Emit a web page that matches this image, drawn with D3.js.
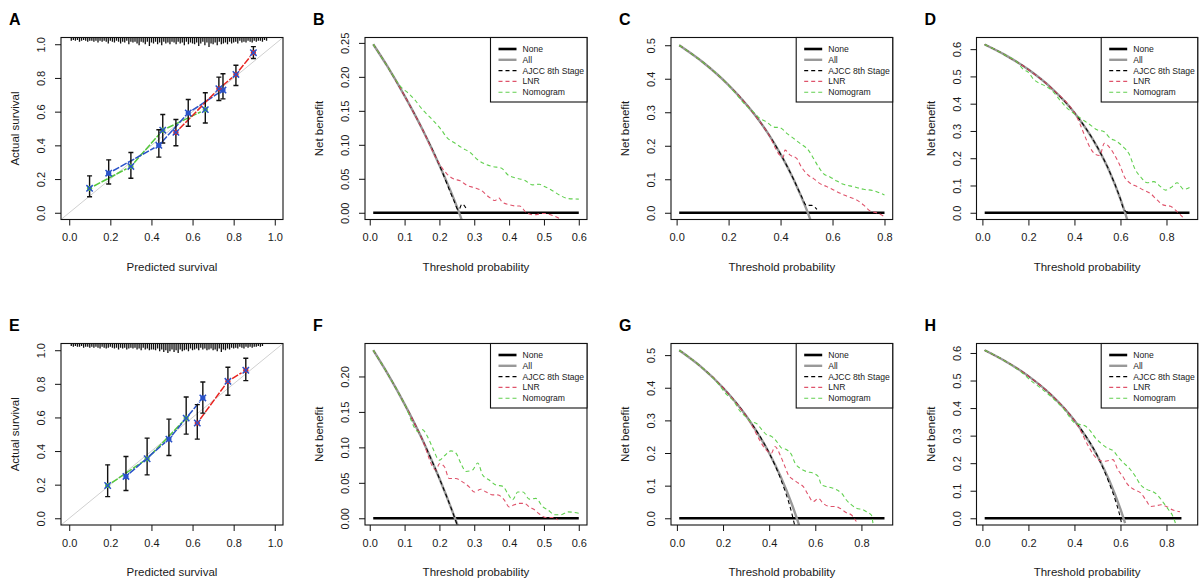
<!DOCTYPE html>
<html>
<head>
<meta charset="utf-8">
<script src="https://cdn.jsdelivr.net/npm/d3@7"></script>
<style>
  body { margin: 0; background: #fff; }
  svg { display: block; font-family: 'Liberation Sans', Arial, sans-serif; }
</style>
</head>
<body>
<script>
// ---------- data ----------
var calTicks = [0, 0.2, 0.4, 0.6, 0.8, 1.0];

// calibration groups: [predicted, observed, lower, upper]
var calA_green = [[0.099, 0.145, 0.095, 0.219], [0.300, 0.275, 0.205, 0.358], [0.455, 0.490, 0.414, 0.583], [0.662, 0.612, 0.533, 0.712]];
var calA_blue = [[0.192, 0.235, 0.171, 0.314], [0.436, 0.400, 0.330, 0.493], [0.579, 0.592, 0.513, 0.672], [0.748, 0.728, 0.676, 0.825]];
var calA_red = [[0.519, 0.477, 0.398, 0.553], [0.728, 0.736, 0.666, 0.805], [0.811, 0.821, 0.755, 0.875], [0.896, 0.950, 0.915, 0.986]];

var calE_green = [[0.187, 0.195, 0.129, 0.318], [0.379, 0.354, 0.258, 0.477], [0.569, 0.596, 0.501, 0.722]];
var calE_blue = [[0.276, 0.249, 0.165, 0.368], [0.485, 0.471, 0.374, 0.590], [0.650, 0.716, 0.626, 0.811]];
var calE_red = [[0.623, 0.567, 0.471, 0.676], [0.772, 0.815, 0.732, 0.899], [0.859, 0.881, 0.819, 0.952]];

// spike histogram of predicted survival, bins of 0.01 starting at 0.01
var rugStep = 0.01;
var rugA = [2, 1, 2, 1, 3, 2, 1, 2, 3, 2, 2, 3, 2, 4, 2, 3, 2, 3, 5, 2, 3, 4, 2, 3, 5, 3, 4, 2, 6, 3,
  4, 3, 5, 7, 3, 4, 6, 3, 8, 4, 5, 3, 6, 4, 7, 3, 5, 4, 6, 3, 4, 6, 3, 5, 4, 7, 3, 6, 4, 5,
  6, 4, 8, 5, 3, 7, 4, 9, 5, 6, 4, 7, 3, 6, 5, 4, 6, 3, 5, 4, 3, 5, 2, 4, 3, 4, 2, 3, 4, 2,
  3, 2, 2, 3, 1, 2];
var rugE = [1, 2, 1, 2, 2, 1, 3, 2, 2, 3, 2, 3, 2, 3, 4, 2, 3, 4, 3, 2, 3, 4, 3, 5, 3, 4, 3, 5, 4, 3,
  4, 3, 5, 4, 6, 3, 5, 4, 6, 5, 5, 6, 4, 7, 5, 8, 6, 9, 7, 5, 8, 6, 9, 5, 7, 6, 5, 7, 4, 6,
  5, 4, 6, 3, 5, 4, 6, 5, 4, 6, 5, 7, 4, 8, 5, 6, 4, 5, 3, 4, 3, 4, 2, 3, 4, 2, 3, 2, 3, 2,
  2, 1, 2, 1];

var dcaNames = ['None', 'All', 'AJCC 8th Stage', 'LNR', 'Nomogram'];

// decision curves: [threshold, net benefit]
var dcaB_none = [[0.01, 0], [0.6, 0]];
var dcaB_all = [[0.01, 0.248], [0.05, 0.216], [0.10, 0.172], [0.15, 0.124], [0.20, 0.070], [0.25, 0.009], [0.27, -0.019]];
var dcaB_ajcc = [[0.01, 0.248], [0.05, 0.216], [0.10, 0.172], [0.15, 0.124], [0.20, 0.070], [0.24, 0.02], [0.255, 0.004], [0.265, 0.013], [0.28, 0.003]];
var dcaB_lnr = [[0.01, 0.248], [0.05, 0.216], [0.10, 0.172], [0.15, 0.124], [0.20, 0.072], [0.22, 0.058], [0.24, 0.05], [0.26, 0.047], [0.28, 0.04], [0.30, 0.037], [0.32, 0.033], [0.34, 0.024], [0.36, 0.018], [0.37, 0.022], [0.38, 0.016], [0.40, 0.012], [0.42, 0.01], [0.43, 0.01], [0.45, 0.0], [0.47, -0.003], [0.50, -0.001], [0.53, -0.005], [0.55, -0.01]];
var dcaB_nomo = [[0.01, 0.248], [0.05, 0.216], [0.09, 0.185], [0.113, 0.175], [0.128, 0.167], [0.151, 0.152], [0.18, 0.137], [0.204, 0.123], [0.223, 0.11], [0.243, 0.103], [0.267, 0.095], [0.29, 0.088], [0.31, 0.078], [0.334, 0.071], [0.353, 0.068], [0.377, 0.066], [0.396, 0.056], [0.42, 0.051], [0.444, 0.048], [0.468, 0.041], [0.487, 0.042], [0.5, 0.039], [0.52, 0.034], [0.545, 0.026], [0.568, 0.021], [0.6, 0.02]];

var dcaC_none = [[0.01, 0], [0.8, 0]];
var dcaC_all = [[0.01, 0.50], [0.1, 0.45], [0.2, 0.381], [0.3, 0.293], [0.35, 0.239], [0.4, 0.175], [0.45, 0.10], [0.5, 0.01], [0.53, -0.053]];
var dcaC_ajcc = [[0.01, 0.50], [0.1, 0.45], [0.2, 0.381], [0.3, 0.293], [0.35, 0.239], [0.4, 0.175], [0.45, 0.10], [0.48, 0.05], [0.5, 0.022], [0.52, 0.022], [0.54, 0.01]];
var dcaC_lnr = [[0.01, 0.50], [0.1, 0.45], [0.2, 0.381], [0.3, 0.293], [0.35, 0.239], [0.41, 0.165], [0.417, 0.187], [0.437, 0.172], [0.462, 0.162], [0.48, 0.137], [0.507, 0.112], [0.527, 0.102], [0.552, 0.087], [0.578, 0.078], [0.604, 0.068], [0.63, 0.058], [0.661, 0.048], [0.693, 0.038], [0.72, 0.023], [0.745, 0.005], [0.77, 0.0], [0.8, -0.012]];
var dcaC_nomo = [[0.01, 0.50], [0.1, 0.45], [0.2, 0.381], [0.27, 0.318], [0.295, 0.301], [0.321, 0.281], [0.347, 0.271], [0.372, 0.256], [0.398, 0.254], [0.424, 0.237], [0.45, 0.222], [0.475, 0.207], [0.507, 0.187], [0.527, 0.162], [0.546, 0.137], [0.565, 0.117], [0.59, 0.107], [0.616, 0.095], [0.642, 0.085], [0.68, 0.078], [0.72, 0.07], [0.757, 0.066], [0.8, 0.053]];

var dcaD_none = [[0.01, 0], [0.9, 0]];
var dcaD_all = [[0.01, 0.617], [0.1, 0.578], [0.2, 0.525], [0.3, 0.457], [0.4, 0.367], [0.5, 0.24], [0.55, 0.156], [0.6, 0.05], [0.62, 0.0], [0.64, -0.056]];
var dcaD_ajcc = [[0.01, 0.617], [0.1, 0.578], [0.2, 0.525], [0.3, 0.457], [0.4, 0.367], [0.5, 0.24], [0.55, 0.156], [0.6, 0.05], [0.615, 0.012], [0.63, 0.003], [0.645, 0.005]];
var dcaD_lnr = [[0.01, 0.617], [0.1, 0.578], [0.2, 0.525], [0.3, 0.457], [0.4, 0.367], [0.49, 0.215], [0.51, 0.21], [0.53, 0.255], [0.556, 0.236], [0.578, 0.206], [0.6, 0.169], [0.617, 0.132], [0.643, 0.108], [0.672, 0.096], [0.701, 0.083], [0.73, 0.071], [0.759, 0.047], [0.788, 0.028], [0.817, 0.024], [0.846, 0.004], [0.875, -0.02]];
var dcaD_nomo = [[0.01, 0.617], [0.1, 0.578], [0.15, 0.553], [0.179, 0.525], [0.2, 0.515], [0.222, 0.49], [0.266, 0.468], [0.3, 0.45], [0.34, 0.41], [0.367, 0.385], [0.396, 0.365], [0.433, 0.343], [0.469, 0.322], [0.498, 0.304], [0.527, 0.298], [0.556, 0.273], [0.585, 0.261], [0.614, 0.24], [0.636, 0.218], [0.665, 0.157], [0.687, 0.132], [0.716, 0.11], [0.745, 0.114], [0.774, 0.096], [0.796, 0.083], [0.825, 0.096], [0.846, 0.11], [0.875, 0.086], [0.9, 0.093]];

var dcaF_none = [[0.01, 0], [0.6, 0]];
var dcaF_all = [[0.01, 0.237], [0.05, 0.205], [0.1, 0.161], [0.15, 0.112], [0.2, 0.056], [0.25, -0.007], [0.27, -0.034]];
var dcaF_ajcc = [[0.01, 0.237], [0.05, 0.205], [0.1, 0.161], [0.15, 0.112], [0.2, 0.056], [0.245, -0.001], [0.25, -0.008]];
var dcaF_lnr = [[0.01, 0.237], [0.05, 0.205], [0.1, 0.161], [0.15, 0.112], [0.19, 0.068], [0.2, 0.077], [0.214, 0.073], [0.228, 0.056], [0.247, 0.056], [0.267, 0.051], [0.286, 0.044], [0.3, 0.037], [0.319, 0.041], [0.334, 0.037], [0.353, 0.033], [0.367, 0.033], [0.386, 0.026], [0.4, 0.016], [0.415, 0.019], [0.43, 0.021], [0.444, 0.021], [0.458, 0.016], [0.473, 0.012], [0.487, 0.006], [0.506, 0.001], [0.525, 0.001], [0.54, -0.002]];
var dcaF_nomo = [[0.01, 0.237], [0.05, 0.205], [0.1, 0.161], [0.14, 0.122], [0.151, 0.125], [0.166, 0.115], [0.18, 0.1], [0.2, 0.082], [0.214, 0.088], [0.233, 0.095], [0.247, 0.092], [0.262, 0.077], [0.276, 0.066], [0.295, 0.068], [0.31, 0.078], [0.324, 0.061], [0.343, 0.054], [0.362, 0.047], [0.382, 0.045], [0.396, 0.035], [0.41, 0.026], [0.425, 0.037], [0.44, 0.037], [0.458, 0.027], [0.477, 0.028], [0.497, 0.016], [0.511, 0.012], [0.53, 0.005], [0.549, 0.005], [0.569, 0.009], [0.6, 0.007]];

var dcaG_none = [[0.01, 0], [0.9, 0]];
var dcaG_all = [[0.01, 0.515], [0.1, 0.467], [0.2, 0.40], [0.3, 0.314], [0.4, 0.2], [0.45, 0.127], [0.5, 0.04], [0.53, -0.021]];
var dcaG_ajcc = [[0.01, 0.515], [0.1, 0.467], [0.2, 0.40], [0.3, 0.314], [0.4, 0.2], [0.45, 0.12], [0.5, 0.01], [0.51, -0.02]];
var dcaG_lnr = [[0.01, 0.515], [0.1, 0.467], [0.2, 0.40], [0.3, 0.314], [0.41, 0.2], [0.425, 0.22], [0.447, 0.195], [0.468, 0.159], [0.483, 0.133], [0.505, 0.118], [0.526, 0.108], [0.548, 0.097], [0.569, 0.072], [0.591, 0.051], [0.613, 0.061], [0.634, 0.046], [0.663, 0.036], [0.685, 0.036], [0.706, 0.031], [0.735, 0.017], [0.757, 0.01], [0.778, -0.01]];
var dcaG_nomo = [[0.01, 0.515], [0.1, 0.467], [0.17, 0.42], [0.216, 0.379], [0.245, 0.36], [0.274, 0.328], [0.3, 0.31], [0.317, 0.298], [0.346, 0.29], [0.368, 0.272], [0.389, 0.256], [0.41, 0.251], [0.432, 0.236], [0.454, 0.215], [0.476, 0.21], [0.497, 0.195], [0.512, 0.169], [0.533, 0.154], [0.562, 0.143], [0.591, 0.138], [0.613, 0.128], [0.627, 0.102], [0.649, 0.097], [0.677, 0.092], [0.699, 0.085], [0.714, 0.077], [0.735, 0.056], [0.757, 0.041], [0.778, 0.031], [0.807, 0.026], [0.822, 0.02], [0.843, 0.01], [0.85, -0.015]];

var dcaH_none = [[0.01, 0], [0.865, 0]];
var dcaH_all = [[0.01, 0.61], [0.1, 0.57], [0.2, 0.516], [0.3, 0.447], [0.4, 0.355], [0.5, 0.226], [0.55, 0.14], [0.6, 0.033], [0.62, -0.018]];
var dcaH_ajcc = [[0.01, 0.61], [0.1, 0.57], [0.2, 0.516], [0.3, 0.447], [0.4, 0.355], [0.5, 0.226], [0.55, 0.13], [0.58, 0.06], [0.6, 0.0], [0.605, -0.02]];
var dcaH_lnr = [[0.01, 0.61], [0.1, 0.57], [0.2, 0.516], [0.3, 0.447], [0.4, 0.355], [0.51, 0.21], [0.533, 0.207], [0.567, 0.213], [0.588, 0.177], [0.61, 0.152], [0.632, 0.122], [0.66, 0.104], [0.689, 0.091], [0.71, 0.067], [0.732, 0.043], [0.754, 0.045], [0.776, 0.049], [0.8, 0.043], [0.828, 0.03], [0.858, 0.024]];
var dcaH_nomo = [[0.01, 0.61], [0.1, 0.57], [0.17, 0.53], [0.21, 0.5], [0.25, 0.475], [0.3, 0.44], [0.35, 0.4], [0.404, 0.345], [0.447, 0.335], [0.469, 0.317], [0.49, 0.293], [0.513, 0.274], [0.541, 0.256], [0.57, 0.244], [0.592, 0.22], [0.614, 0.201], [0.643, 0.177], [0.665, 0.152], [0.687, 0.122], [0.716, 0.104], [0.738, 0.098], [0.76, 0.085], [0.788, 0.055], [0.81, 0.03], [0.825, 0.012], [0.839, -0.018]];

// ---------- drawing ----------
var rc = {};

rc.extend = function(lim) {
  // R style 4% axis padding
  var pad = (lim[1] - lim[0]) * 0.04;
  return [lim[0] - pad, lim[1] + pad];
};

rc.Panel = function(svg, opts) {
  this.svg = svg;
  this.opts = opts;
  var b = opts.box;
  this.x = d3.scaleLinear().domain(rc.extend(opts.xlim)).range([b[0], b[2]]);
  this.y = d3.scaleLinear().domain(rc.extend(opts.ylim)).range([b[3], b[1]]);
  this.g = svg.append('g');
  var clipId = 'clip' + opts.label;
  this.g.append('clipPath').attr('id', clipId).append('rect')
    .attr('x', b[0]).attr('y', b[1]).attr('width', b[2] - b[0]).attr('height', b[3] - b[1]);
  this.plot = this.g.append('g').attr('clip-path', 'url(#' + clipId + ')');
};

rc.Panel.prototype.axes = function(xTicks, yTicks, xFmt, yFmt, xTitle, yTitle) {
  var b = this.opts.box;

  var xa = this.g.append('g').attr('transform', 'translate(0,' + b[3] + ')')
    .call(d3.axisBottom(this.x).tickValues(xTicks).tickFormat(d3.format(xFmt)).tickSize(6).tickPadding(8));
  var ya = this.g.append('g').attr('transform', 'translate(' + b[0] + ',0)')
    .call(d3.axisLeft(this.y).tickValues(yTicks).tickFormat(d3.format(yFmt)).tickSize(6));

  [xa, ya].forEach(function(a) {
    a.select('.domain').remove();
    a.selectAll('line').attr('stroke', '#111').attr('stroke-width', 1);
    a.selectAll('text').attr('fill', '#1a1a1a').style('font-size', '11px').style('font-family', null);
  });
  ya.selectAll('text')
    .attr('x', null).attr('dy', null)
    .attr('text-anchor', 'middle')
    .attr('transform', 'translate(-16,0) rotate(-90)');

  this.g.append('text')
    .attr('x', (b[0] + b[2]) / 2).attr('y', b[3] + 51)
    .attr('text-anchor', 'middle').style('font-size', '11.5px').attr('fill', '#1a1a1a')
    .text(xTitle);
  this.g.append('text')
    .attr('transform', 'translate(' + (b[0] - 42) + ',' + ((b[1] + b[3]) / 2) + ') rotate(-90)')
    .attr('text-anchor', 'middle').style('font-size', '11.5px').attr('fill', '#1a1a1a')
    .text(yTitle);

  this.g.append('text')
    .attr('x', b[0] - 52).attr('y', b[1] - 13)
    .style('font-size', '16px').style('font-weight', 'bold')
    .text(this.opts.label);
};

rc.Panel.prototype.frame = function() {
  var b = this.opts.box;
  this.g.append('rect')
    .attr('x', b[0]).attr('y', b[1]).attr('width', b[2] - b[0]).attr('height', b[3] - b[1])
    .attr('fill', 'none').attr('stroke', '#111').attr('stroke-width', 1.1);
};

rc.Panel.prototype.calibration = function(groups, colors, rug) {
  var x = this.x, y = this.y, p = this.plot;
  var b = this.opts.box;

  // ideal line
  p.append('line')
    .attr('x1', x(-0.1)).attr('y1', y(-0.1)).attr('x2', x(1.1)).attr('y2', y(1.1))
    .attr('stroke', '#d0d0d0').attr('stroke-width', 1);

  // spike histogram hanging from the top
  var h = d3.scaleLinear().domain([0, 9]).range([1.5, 9.5]);
  p.append('g').selectAll('line').data(rug).enter().append('line')
    .attr('x1', function(d, i) { return x((i + 1) * rugStep); })
    .attr('x2', function(d, i) { return x((i + 1) * rugStep); })
    .attr('y1', b[1])
    .attr('y2', function(d) { return b[1] + h(d); })
    .attr('stroke', '#111').attr('stroke-width', 1.3);

  groups.forEach(function(pts, k) {
    var col = colors[k];
    // type = "b": segments with gaps around points
    for (var i = 0; i < pts.length - 1; i++) {
      var x1 = x(pts[i][0]), y1 = y(pts[i][1]), x2 = x(pts[i + 1][0]), y2 = y(pts[i + 1][1]);
      var len = Math.sqrt((x2 - x1) * (x2 - x1) + (y2 - y1) * (y2 - y1));
      var gap = 5 / len;
      if (gap > 0.45) continue;
      p.append('line')
        .attr('x1', x1 + (x2 - x1) * gap).attr('y1', y1 + (y2 - y1) * gap)
        .attr('x2', x2 - (x2 - x1) * gap).attr('y2', y2 - (y2 - y1) * gap)
        .attr('stroke', col).attr('stroke-width', 1.5).attr('stroke-dasharray', '7,1.5');
    }
  });

  groups.forEach(function(pts, k) {
    var col = colors[k];
    var eb = p.append('g');
    pts.forEach(function(d) {
      eb.append('line').attr('x1', x(d[0])).attr('x2', x(d[0])).attr('y1', y(d[2])).attr('y2', y(d[3]))
        .attr('stroke', '#111').attr('stroke-width', 1.4);
      [d[2], d[3]].forEach(function(v) {
        eb.append('line').attr('x1', x(d[0]) - 2.5).attr('x2', x(d[0]) + 2.5).attr('y1', y(v)).attr('y2', y(v))
          .attr('stroke', '#111').attr('stroke-width', 1.4);
      });
    });
    p.append('g').selectAll('circle').data(pts).enter().append('circle')
      .attr('cx', function(d) { return x(d[0]); })
      .attr('cy', function(d) { return y(d[1]); })
      .attr('r', 2.6).attr('fill', col);
    // corrected estimates, blue x
    p.append('g').selectAll('path').data(pts).enter().append('path')
      .attr('d', function(d) {
        var cx = x(d[0]), cy = y(d[1]), s = 3.2;
        return 'M' + (cx - s) + ',' + (cy - s) + 'L' + (cx + s) + ',' + (cy + s) +
          'M' + (cx - s) + ',' + (cy + s) + 'L' + (cx + s) + ',' + (cy - s);
      })
      .attr('stroke', '#2a52c8').attr('stroke-width', 1.5).attr('fill', 'none');
  });
};

rc.dcaStyles = [
  { color: '#000000', width: 2.6, dash: null },
  { color: '#999999', width: 2.4, dash: null },
  { color: '#000000', width: 1.1, dash: '4,3' },
  { color: '#df536b', width: 1.1, dash: '4,3' },
  { color: '#61d04f', width: 1.1, dash: '4,3' }
];

rc.Panel.prototype.dca = function(curves) {
  var x = this.x, y = this.y, p = this.plot;
  var line = d3.line()
    .x(function(d) { return x(d[0]); })
    .y(function(d) { return y(d[1]); })
    .curve(d3.curveMonotoneX);

  curves.forEach(function(c, i) {
    var st = rc.dcaStyles[i];
    p.append('path').datum(c).attr('d', line)
      .attr('fill', 'none').attr('stroke', st.color).attr('stroke-width', st.width)
      .attr('stroke-dasharray', st.dash);
  });
};

rc.Panel.prototype.legend = function() {
  var b = this.opts.box;
  var lx = b[2] - 96.5, ly = b[1];
  var lg = this.g.append('g');
  lg.append('rect').attr('x', lx).attr('y', ly).attr('width', 96.5).attr('height', 64.5)
    .attr('fill', '#fff').attr('stroke', '#111').attr('stroke-width', 1.1);
  dcaNames.forEach(function(name, i) {
    var st = rc.dcaStyles[i];
    var yy = ly + 11.5 + i * 10.8;
    lg.append('line').attr('x1', lx + 8).attr('x2', lx + 26).attr('y1', yy).attr('y2', yy)
      .attr('stroke', st.color).attr('stroke-width', st.width).attr('stroke-dasharray', st.dash);
    lg.append('text').attr('x', lx + 32).attr('y', yy).attr('dy', '0.35em')
      .style('font-size', '8.6px').attr('fill', '#1a1a1a').text(name);
  });
};

rc.Main = function() {
  this.svg = d3.select('body').append('svg').attr('width', 1200).attr('height', 581);
};

rc.Main.prototype.main = function() {
  var top = [37.5, 219.5], bot = [343.5, 525];
  var cols = [61, 283], colB = [365, 587], colC = [671, 892.7], colD = [976.5, 1197.7];
  var calColors = ['#55c83c', '#2a52c8', '#e8231f'];

  var a = new rc.Panel(this.svg, { label: 'A', box: [cols[0], top[0], cols[1], top[1]], xlim: [0, 1], ylim: [0, 1] });
  a.calibration([calA_green, calA_blue, calA_red], calColors, rugA);
  a.frame();
  a.axes(calTicks, calTicks, '.1f', '.1f', 'Predicted survival', 'Actual survival');

  var e = new rc.Panel(this.svg, { label: 'E', box: [cols[0], bot[0], cols[1], bot[1]], xlim: [0, 1], ylim: [0, 1] });
  e.calibration([calE_green, calE_blue, calE_red], calColors, rugE);
  e.frame();
  e.axes(calTicks, calTicks, '.1f', '.1f', 'Predicted survival', 'Actual survival');

  var dcaPanels = [
    { label: 'B', box: [colB[0], top[0], colB[1], top[1]], xlim: [0.01, 0.6], ylim: [0, 0.248],
      curves: [dcaB_none, dcaB_all, dcaB_ajcc, dcaB_lnr, dcaB_nomo],
      xt: d3.range(0, 0.61, 0.1), yt: d3.range(0, 0.251, 0.05), xf: '.1f', yf: '.2f' },
    { label: 'C', box: [colC[0], top[0], colC[1], top[1]], xlim: [0.01, 0.8], ylim: [0, 0.503],
      curves: [dcaC_none, dcaC_all, dcaC_ajcc, dcaC_lnr, dcaC_nomo],
      xt: d3.range(0, 0.81, 0.2), yt: d3.range(0, 0.51, 0.1), xf: '.1f', yf: '.1f' },
    { label: 'D', box: [colD[0], top[0], colD[1], top[1]], xlim: [0.01, 0.9], ylim: [0, 0.618],
      curves: [dcaD_none, dcaD_all, dcaD_ajcc, dcaD_lnr, dcaD_nomo],
      xt: d3.range(0, 0.81, 0.2), yt: d3.range(0, 0.61, 0.1), xf: '.1f', yf: '.1f' },
    { label: 'F', box: [colB[0], bot[0], colB[1], bot[1]], xlim: [0.01, 0.6], ylim: [0, 0.237],
      curves: [dcaF_none, dcaF_all, dcaF_ajcc, dcaF_lnr, dcaF_nomo],
      xt: d3.range(0, 0.61, 0.1), yt: d3.range(0, 0.201, 0.05), xf: '.1f', yf: '.2f' },
    { label: 'G', box: [colC[0], bot[0], colC[1], bot[1]], xlim: [0.01, 0.9], ylim: [0, 0.515],
      curves: [dcaG_none, dcaG_all, dcaG_ajcc, dcaG_lnr, dcaG_nomo],
      xt: d3.range(0, 0.81, 0.2), yt: d3.range(0, 0.51, 0.1), xf: '.1f', yf: '.1f' },
    { label: 'H', box: [colD[0], bot[0], colD[1], bot[1]], xlim: [0.01, 0.9], ylim: [0, 0.61],
      curves: [dcaH_none, dcaH_all, dcaH_ajcc, dcaH_lnr, dcaH_nomo],
      xt: d3.range(0, 0.81, 0.2), yt: d3.range(0, 0.61, 0.1), xf: '.1f', yf: '.1f' }
  ];

  var svg = this.svg;
  dcaPanels.forEach(function(o) {
    var pn = new rc.Panel(svg, o);
    pn.dca(o.curves);
    pn.frame();
    pn.legend();
    pn.axes(o.xt, o.yt, o.xf, o.yf, 'Threshold probability', 'Net benefit');
  });
};

new rc.Main().main();
</script>
</body>
</html>
